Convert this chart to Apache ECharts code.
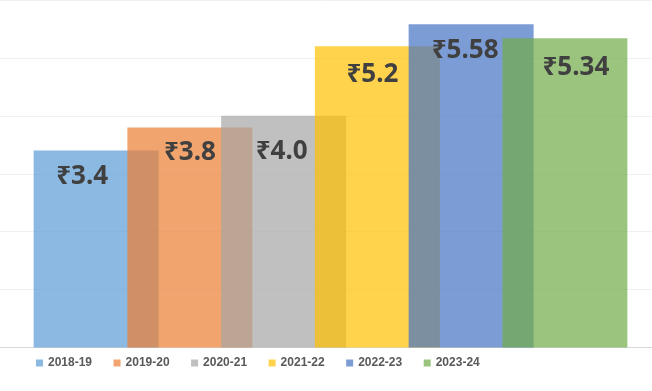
<!DOCTYPE html>
<html>
<head>
<meta charset="utf-8">
<script src="https://cdn.jsdelivr.net/npm/echarts@6/dist/echarts.min.js"></script>
<style>html,body{margin:0;padding:0;background:#fff}#c{width:652px;height:391px}</style>
</head>
<body>
<div id="c"></div>
<script>
const years = ["2018-19", "2019-20", "2020-21", "2021-22", "2022-23", "2023-24"];
const values = [3.4, 3.8, 4.0, 5.2, 5.58, 5.34];
const labels = ["₹3.4", "₹3.8", "₹4.0", "₹5.2", "₹5.58", "₹5.34"];
const colors = ["rgba(91,155,213,0.7)", "rgba(237,125,49,0.7)", "rgba(165,165,165,0.7)",
                "rgba(255,192,0,0.7)", "rgba(68,114,196,0.7)", "rgba(112,173,71,0.7)"];
const labelOffsets = [[-14, 1], [0, 0], [-2, 11], [-5, 3], [-6, 1], [11, 4]];

const chart = echarts.init(document.getElementById('c'), null, {renderer: 'canvas'});
chart.setOption({
  animation: false,
  backgroundColor: '#ffffff',
  grid: {left: 0, right: -9, top: 0, bottom: 43.5, outerBoundsMode: 'none', containLabel: false},
  legend: {
    left: 31, top: 352,
    itemWidth: 7, itemHeight: 7, itemGap: 21.5,
    icon: 'rect',
    textStyle: {color: '#595959', fontSize: 12, fontWeight: 'bold', fontFamily: 'Liberation Sans'},
    data: years
  },
  xAxis: {
    type: 'category', data: [''],
    axisLine: {show: true, lineStyle: {color: '#d9d9d9'}},
    axisTick: {show: false}, axisLabel: {show: false}
  },
  yAxis: {
    type: 'value', min: 0, max: 6, interval: 1,
    axisLabel: {show: false}, axisLine: {show: false}, axisTick: {show: false},
    splitLine: {lineStyle: {color: '#eef0f5', width: 1}}
  },
  series: years.map((y, i) => ({
    name: y, type: 'bar', data: [values[i]],
    barWidth: 125, barGap: '-25%',
    itemStyle: {color: colors[i]},
    label: {
      show: true, position: 'insideTop', distance: 12,
      offset: labelOffsets[i],
      formatter: () => labels[i],
      color: '#404040', fontSize: 26, fontWeight: 'bold', fontFamily: 'Noto Sans'
    }
  }))
});
</script>
</body>
</html>
